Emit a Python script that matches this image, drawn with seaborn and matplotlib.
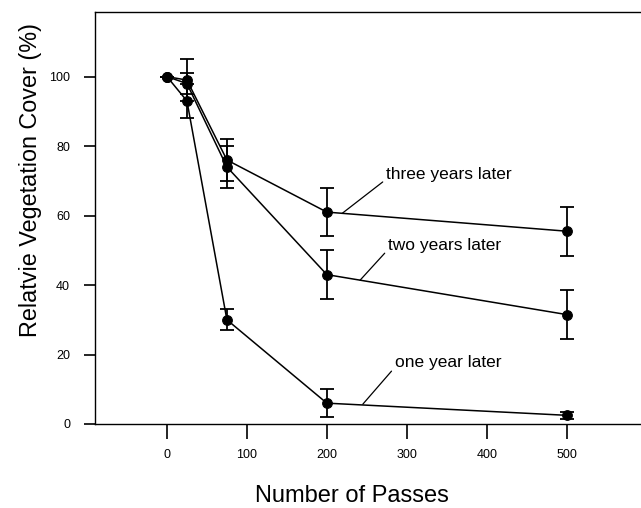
import matplotlib
matplotlib.use("Agg")
import matplotlib.pyplot as plt
import seaborn as sns
import pandas as pd

passes = [0, 25, 75, 200, 500]
one_year = [100, 93, 30, 6, 2.5]
one_year_err = [0, 5, 3, 4, 1]
two_years = [100, 98, 74, 43, 31.5]
two_years_err = [0, 3, 6, 7, 7]
three_years = [100, 99, 76, 61, 55.5]
three_years_err = [0, 6, 6, 7, 7]
series_names = ["one year later", "two years later", "three years later"]
x_ticks = [0, 100, 200, 300, 400, 500]
y_ticks = [0, 20, 40, 60, 80, 100]

df = pd.DataFrame({
    "passes": passes * 3,
    "cover": one_year + two_years + three_years,
    "err": one_year_err + two_years_err + three_years_err,
    "series": sum([[n] * len(passes) for n in series_names], []),
})

sns.set_style("ticks")
plt.rcParams["font.family"] = ["Liberation Sans", "DejaVu Sans"]
plt.rcParams["text.color"] = "black"
plt.rcParams["axes.labelcolor"] = "black"

fig = plt.figure(figsize=(6.41, 5.08), dpi=100)
ax = fig.add_axes([95 / 641, 84 / 508, 546 / 641, 412 / 508])

sns.lineplot(data=df, x="passes", y="cover", units="series", estimator=None,
             color="black", marker="o", markersize=7, markeredgecolor="black",
             linewidth=1.1, ax=ax, legend=False)
for name in series_names:
    sub = df[df["series"] == name]
    ax.errorbar(sub["passes"], sub["cover"], yerr=sub["err"], fmt="none",
                ecolor="black", elinewidth=1.3, capsize=5, capthick=1.3)

ax.set_xlim(-90, 593)
ax.set_ylim(0, 118.6)
ax.set_xticks(x_ticks)
ax.set_yticks(y_ticks)
ax.tick_params(axis="both", direction="out", width=1.2,
               labelsize=9, colors="black", labelcolor="black")
ax.tick_params(axis="x", length=11, pad=7)
ax.tick_params(axis="y", length=8, pad=10)
for s in ["left", "bottom", "top"]:
    ax.spines[s].set_linewidth(1.0)
    ax.spines[s].set_color("black")
ax.spines["right"].set_visible(False)

ax.set_xlabel("Number of Passes", fontsize=17, ha="center", va="center",
              color="black")
ax.xaxis.set_label_coords(0.4707, -0.175)
ax.set_ylabel("Relatvie Vegetation Cover (%)", fontsize=16.8,
              ha="center", va="center", color="black")
ax.yaxis.set_label_coords(-0.119, 0.592)

# annotations
ann = [
    ("three years later", (219, 60.6), (274, 71.7)),
    ("two years later", (241.6, 41.4), (276.5, 51.5)),
    ("one year later", (245, 5.7), (285, 17.6)),
]
for text, xy, xytext in ann:
    ax.annotate(text, xy=xy, xytext=xytext, fontsize=12.5, va="center",
                ha="left", color="black",
                arrowprops=dict(arrowstyle="-", color="black", lw=0.9,
                                shrinkA=0, shrinkB=0,
                                relpos=(0, 0.2)))

fig.savefig("out.png", dpi=100)
